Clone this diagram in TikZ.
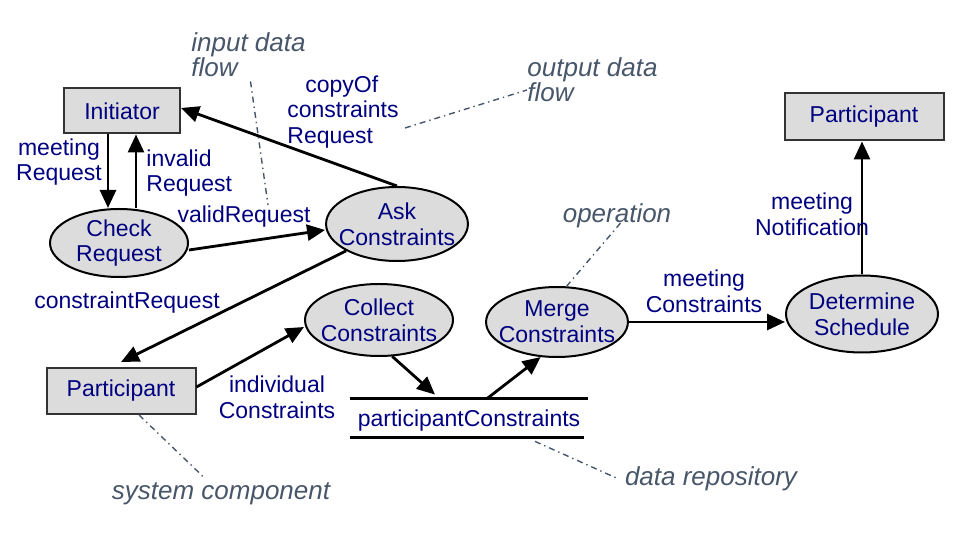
\documentclass[tikz,border=0pt]{standalone}
\usepackage{fontspec}
\setmainfont{Liberation Sans}
\usetikzlibrary{shapes.geometric, positioning, calc, arrows.meta}
\definecolor{labelblue}{RGB}{0,0,128}
\definecolor{notegray}{RGB}{72,86,106}
\definecolor{boxfill}{RGB}{220,220,220}
\newcommand{\lblfont}{\fontsize{11.5}{12.8}\selectfont}
\tikzset{
  process/.style={ellipse, draw=black, line width=1pt, fill=boxfill, text=labelblue, align=center, inner xsep=-4pt, inner ysep=0pt, font=\lblfont},
  component/.style={rectangle, draw=black!80, line width=1pt, fill=boxfill, text=labelblue, inner sep=0pt, font=\lblfont},
  repo/.style={rectangle, text=labelblue, inner sep=0pt, font=\lblfont, minimum width=119pt, minimum height=19pt},
  repoline/.style={line width=1.5pt},
  flow/.style={line width=1.4pt, -{Triangle[length=9pt,width=8pt]}},
  flowlabel/.style={text=labelblue, align=center, inner sep=0pt, font=\lblfont},
  note/.style={text=notegray, align=left, inner sep=0pt, font=\fontsize{13}{12.5}\selectfont\itshape},
  noteline/.style={notegray, line width=0.7pt, dash pattern=on 3pt off 2pt on 0.7pt off 2pt},
}
\begin{document}
\begin{tikzpicture}[x=0.5pt,y=-0.5pt]
        \useasboundingbox (0,0) rectangle (964,533);
        %componenti
        \node[component, minimum width=58pt, minimum height=22.5pt] (init) at (122,111) {Initiator};
        \node[component, minimum width=74.5pt, minimum height=23pt] (partA) at (121,391) {Participant};
        \node[component, minimum width=79.5pt, minimum height=23.5pt] (partB) at (864,117) {Participant};
        %operazioni
        \node[process, minimum width=69pt, minimum height=34pt] (check) at (119,243) {Check\\Request};
        \node[process, minimum width=70pt, minimum height=37pt] (ask) at (397,224) {Ask\\Constraints};
        \node[process, minimum width=74pt, minimum height=36pt] (collect) at (379,320) {Collect\\Constraints};
        \node[process, minimum width=69.5pt, minimum height=35pt] (merge) at (557,322) {Merge\\Constraints};
        \node[process, minimum width=76pt, minimum height=38.5pt] (det) at (862,314) {Determine\\Schedule};
        %repository
        \node[repo] (store) at (469,421) {participantConstraints};
        \draw[repoline] ([yshift=1.5pt]store.north west) -- ([yshift=1.5pt]store.north east);
        \draw[repoline] ([yshift=1.5pt]store.south west) -- ([xshift=-2pt,yshift=1.5pt]store.south east);
        %flussi
        \draw[flow] ([xshift=-7pt]init.south) -- ([xshift=-5.5pt]check.north);
        \draw[flow] ([xshift=8.5pt]check.north) -- ([xshift=7pt]init.south);
        \draw[flow] ([yshift=-3.5pt]check.east) -- ([yshift=-3pt]ask.west);
        \draw[flow] (ask.north) -- ([yshift=1.5pt]init.east);
        \draw[flow] (ask.south west) -- ([yshift=2.5pt]partA.north);
        \draw[flow] ([yshift=2pt]partA.east) -- ([yshift=-3.5pt]collect.west);
        \draw[flow] (collect.-70) -- ([xshift=-17pt,yshift=3.5pt]store.north);
        \draw[flow] ([xshift=9pt,yshift=1.5pt]store.north) -- (merge.-115);
        \draw[flow] (merge.east) -- (merge.east -| det.west);
        \draw[flow] (det.north) -- (det.north |- partB.south);
        %etichette flussi
        \node[flowlabel] (meetReq) at (59,162) {meeting\\Request};
        \node[flowlabel, align=left, anchor=west] (invReq) at (146,173) {invalid\\Request};
        \node[flowlabel] (valReq) at (244,217) {validRequest};
        \node[flowlabel, align=left, anchor=west] (copyReq) at (287,112) {\hspace*{9pt}copyOf\\constraints\\Request};
        \node[flowlabel] (conReq) at (127,303) {constraintRequest};
        \node[flowlabel] (indCon) at (277,397) {individual\\Constraints};
        \node[flowlabel] (meetCon) at (704,291) {meeting\\Constraints};
        \node[flowlabel] (meetNot) at (812,214) {meeting\\Notification};
        %note
        \node[note, anchor=west] (inp) at (191,55) {input data\\flow};
        \node[note, anchor=west] (outp) at (527,80) {output data\\flow};
        \node[note] (op) at (617,216) {operation};
        \node[note] (sys) at (221,494) {system component};
        \node[note] (rep) at (711,479) {data repository};
        \coordinate (inpEnd) at (268,205);
        \coordinate (outEnd) at (405,128);
        \draw[noteline] ([xshift=1pt,yshift=-2pt]inp.south) -- (inpEnd);
        \draw[noteline] (outEnd) -- ([yshift=-5pt]outp.west);
        \draw[noteline] (merge.75) -- ([xshift=2pt,yshift=3pt]op.south);
        \draw[noteline] ([xshift=9pt]partA.south) -- ([xshift=-9pt,yshift=3pt]sys.north);
        \draw[noteline] ([xshift=33pt,yshift=-0.5pt]store.south) -- ([xshift=-3pt]rep.west);
\end{tikzpicture}
\end{document}
